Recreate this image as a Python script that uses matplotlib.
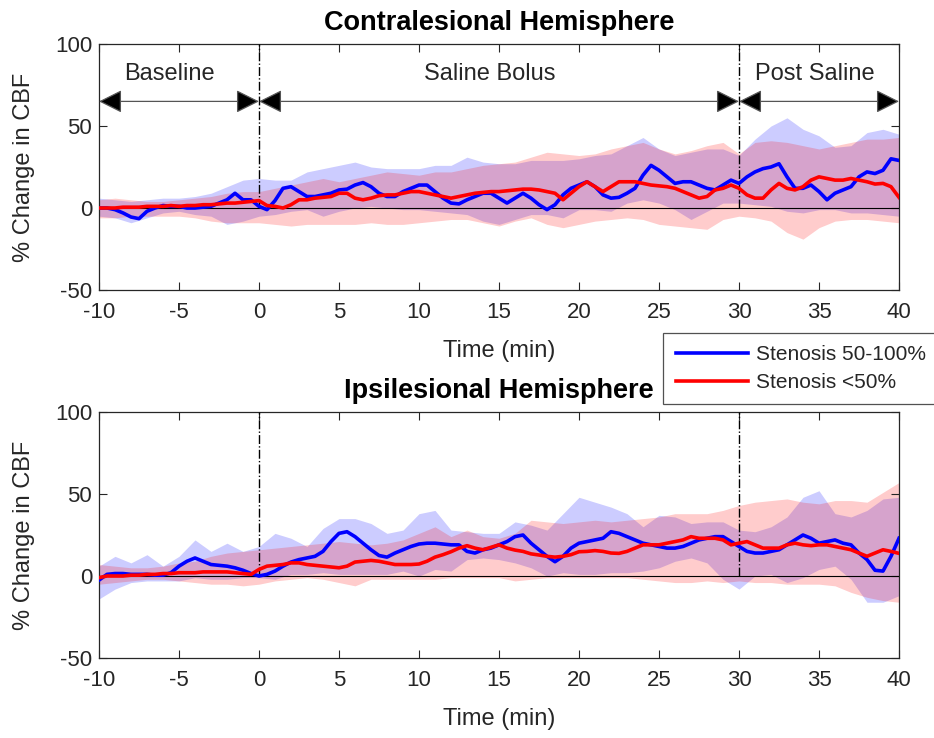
import numpy as np
import matplotlib
matplotlib.use("Agg")
import matplotlib.pyplot as plt
from matplotlib.patches import FancyArrowPatch

plt.rcParams['font.family'] = ['Liberation Sans', 'DejaVu Sans']
plt.rcParams['axes.unicode_minus'] = False

# ---------------- data ----------------
t_mean = np.arange(-10, 40.01, 0.5)   # mean curves, 0.5-min sampling
t_band = np.arange(-10, 41, 1)        # confidence bands, 1-min sampling

contra_blue_mean = [
    0, 0, -1, -3, -5.5, -6.5, -2, 0, 1.5, 1,
    1, 0, 0, 0.5, 1, 3, 5, 9, 5, 5,
    1, -1, 4.5, 12, 13, 10, 7, 7, 8, 9,
    11, 11.5, 14, 15.5, 13, 9, 7, 7, 10, 12,
    14, 14, 10, 6, 3, 2.5, 5, 7, 9, 9,
    6, 3, 6, 9, 6, 2, -1, 2, 8, 12,
    14, 16, 13, 8, 6, 6.5, 9, 12, 20, 26,
    23, 19, 15, 16, 16, 14, 12, 11, 14, 17,
    15, 19, 22, 24, 25, 27, 19, 12, 12, 14,
    10, 5, 9, 11, 13, 19, 22, 21, 23, 30,
    29]
contra_red_mean = [
    0, 0, 0, 0.5, 0.5, 0.5, 1, 1, 1, 1.5,
    1, 1.5, 1.5, 2, 2, 2.5, 3, 3, 3.5, 4,
    4.5, 1.5, 1, 0, 2, 5, 5, 6, 6.5, 7,
    9, 9, 6, 5, 6, 7.5, 8, 8, 9, 10,
    10, 9, 8, 7, 6, 7, 8, 9, 9.5, 10,
    10, 10.5, 11, 11.5, 11.5, 11, 10, 9, 5, 9,
    13, 16, 13, 10, 13, 16, 16, 16, 15, 14,
    13.5, 13, 12, 10, 8, 6, 7, 11, 12, 14,
    12, 8, 6, 6, 11, 15, 12, 11, 13, 17,
    19, 18, 17, 17, 18, 17, 16, 14.6, 15, 13,
    6.5]
contra_blue_upper = [6, 5, 4, 5, 6, 6, 7, 9, 13, 17,
                     18, 17, 17, 22, 24, 26, 28, 25, 24, 24,
                     24, 26, 26, 31, 28, 27, 27, 29, 29, 29,
                     30, 32, 33, 38, 43, 36, 32, 34, 36, 36,
                     32, 42, 50, 55, 48, 44, 37, 38, 46, 48,
                     45]
contra_blue_lower = [-5, -6, -9, -6, -3, -2, -4, -5, -10, -8,
                     -5, -4, -2, -1, -5, -2, 0, 1, 0, -1,
                     -1, -2, -3, -4, -8, -10, -7, -4, -4, -6,
                     -1, -1, -2, 3, 5, 3, -1, -7, -2, 3,
                     3, 2, 1, -2, -3, -1, -1, -3, -3, -4,
                     -5]
contra_red_upper = [5, 6, 5, 4, 4, 5, 6, 7, 9, 10,
                    10, 12, 14, 16, 18, 16, 18, 20, 22, 21,
                    20, 22, 22, 24, 26, 27, 28, 31, 34, 33,
                    32, 33, 36, 38, 40, 36, 33, 35, 38, 40,
                    33, 40, 41, 40, 38, 36, 38, 40, 42, 42,
                    43]
contra_red_lower = [-6, -6, -5, -5, -5, -5, -6, -8, -9, -9,
                    -9, -10, -11, -10, -10, -10, -10, -9, -10, -10,
                    -9, -8, -7, -7, -9, -11, -8, -6, -10, -12,
                    -10, -8, -7, -6, -7, -10, -11, -12, -13, -7,
                    -5, -6, -8, -15, -19, -12, -8, -7, -7, -8,
                    -9]

ipsi_blue_mean = [
    -2.5, 1, 1.5, 1.5, 1, 1, 1, 0.5, 0.5, 2,
    6, 9, 11, 9, 7, 6.5, 6, 5, 3.5, 1.5,
    0, 1, 3, 6, 8.5, 10, 11, 12, 15, 21,
    26, 27, 24, 20, 16, 12.5, 11.5, 14, 16, 18,
    19.5, 20, 20, 19.5, 19, 19, 15, 14, 16, 17,
    19, 21, 24, 25, 20, 16, 12, 8.7, 12, 17,
    20, 21, 22, 23, 27, 26, 24, 22, 20, 19,
    18, 17, 17, 18, 20, 22, 23, 24, 24, 21,
    18, 15, 14, 14, 15, 16, 19, 22, 25, 23,
    20, 21, 22, 20, 19, 14, 10, 3.5, 3, 12,
    23]
ipsi_red_mean = [
    -1, 0, 0, 0, 0.5, 0.5, 1, 1, 1.5, 1.5,
    2, 2, 2, 2.5, 2.5, 2.5, 2.5, 2, 1.5, 1,
    4, 6, 6.5, 7, 8, 8, 7, 6.5, 6, 5.5,
    5, 6, 8.5, 9, 9.5, 9, 8, 7, 7, 7,
    7.3, 9, 11.5, 13, 14.8, 17, 18.5, 17, 16, 17.5,
    19, 17, 15.8, 15, 13.5, 12.8, 12, 11.5, 12, 13,
    14.8, 15, 15.5, 15, 14, 13.8, 15, 17, 19, 19,
    19, 20, 21, 22, 24, 23, 23, 23, 22, 19,
    20, 21, 19, 17, 17, 17, 19, 20, 19, 18.5,
    19, 19, 18, 17, 16, 14, 12, 14, 16, 15,
    13.8]
ipsi_blue_upper = [6, 12, 8, 13, 6, 12, 22, 15, 20, 15,
                   18, 26, 23, 18, 29, 35, 35, 32, 26, 28,
                   38, 40, 28, 27, 26, 26, 33, 31, 28, 38,
                   48, 45, 42, 38, 30, 37, 36, 32, 33, 33,
                   28, 27, 30, 36, 48, 52, 38, 36, 40, 47,
                   48]
ipsi_blue_lower = [-14, -8, -4, -3, -3, -3, -1, -2, -2, -1,
                   -1, -2, 1, 1, 2, 1, 1, 1, 1, 3,
                   0, 4, 3, 10, 11, 10, 8, 5, 0, 2,
                   1, 1, 2, 2, 3, 5, 9, 11, 8, -2,
                   -8, 0, 1, -4, -1, 4, 6, -2, -16, -16,
                   -12]
ipsi_red_upper = [7, 6, 5, 5, 6, 8, 9, 12, 14, 15,
                  16, 17, 18, 19, 20, 21, 20, 19, 20, 22,
                  26, 30, 24, 28, 24, 23, 26, 34, 33, 32,
                  33, 34, 33, 34, 35, 36, 38, 38, 38, 40,
                  43, 45, 46, 47, 45, 44, 46, 46, 45, 51,
                  57]
ipsi_red_lower = [-5, -4, -3, -2, -2, -3, -4, -5, -5, -6,
                  -5, -3, -2, -1, -2, -4, -6, -2, -2, -2,
                  -2, -2, -1, -1, -1, -1, -3, -2, -1, -1,
                  -1, -1, -1, -1, -2, -3, -4, -4, -3, -4,
                  -3, -4, -4, -5, -5, -5, -6, -10, -13, -15,
                  -16]

phase_labels = ["Baseline", "Saline Bolus", "Post Saline"]
phase_edges = [-10, 0, 30, 40]
series_labels = ["Stenosis 50-100%", "Stenosis <50%"]
titles = ["Contralesional Hemisphere", "Ipsilesional Hemisphere"]

# ---------------- figure ----------------
W, H = 934, 738
fig = plt.figure(figsize=(W / 100, H / 100), dpi=100)
ax1 = fig.add_axes([99 / W, 1 - 290 / H, 800 / W, 246 / H])
ax2 = fig.add_axes([99 / W, 1 - 658 / H, 800 / W, 246 / H])

txt = '#262626'
blue = '#0000FF'
red = '#FF0000'

panels = [
    (ax1, contra_blue_mean, contra_red_mean, contra_blue_upper, contra_blue_lower,
     contra_red_upper, contra_red_lower),
    (ax2, ipsi_blue_mean, ipsi_red_mean, ipsi_blue_upper, ipsi_blue_lower,
     ipsi_red_upper, ipsi_red_lower),
]

handles = None
for i, (ax, bm, rm, bu, bl, ru, rl) in enumerate(panels):
    ax.fill_between(t_band, bl, bu, color=blue, alpha=0.2, lw=0)
    ax.fill_between(t_band, rl, ru, color=red, alpha=0.2, lw=0)
    ax.axhline(0, color='black', lw=0.8, zorder=3)
    for xv in (0, 30):
        ax.plot([xv, xv], [0, 100], color='black', lw=1.0, ls='-.', zorder=3)
    hb, = ax.plot(t_mean, bm, color=blue, lw=2.6, zorder=4, label=series_labels[0])
    hr, = ax.plot(t_mean, rm, color=red, lw=2.6, zorder=5, label=series_labels[1])
    if handles is None:
        handles = [hb, hr]

    ax.set_xlim(-10, 40)
    ax.set_ylim(-50, 100)
    ax.set_xticks(np.arange(-10, 41, 5))
    ax.set_yticks([-50, 0, 50, 100])
    ax.tick_params(direction='in', top=True, right=True, length=6, width=0.8,
                   labelsize=16, colors=txt, labelcolor=txt)
    ax.tick_params(axis='x', pad=9)
    ax.tick_params(axis='y', pad=5)
    for s in ax.spines.values():
        s.set_color(txt)
        s.set_linewidth(0.9)
    ax.set_xlabel('Time (min)', fontsize=17, color=txt, labelpad=12)
    ax.set_ylabel('% Change in CBF', fontsize=17, color=txt, labelpad=14)
    ax.set_title(titles[i], fontsize=19.5, fontweight='bold', color='black', pad=10)

# phase arrows & labels on the top panel
arrow_y = 65
label_y = 82
for k in range(3):
    a, b = phase_edges[k], phase_edges[k + 1]
    arr = FancyArrowPatch((a, arrow_y), (b, arrow_y),
                          arrowstyle='<|-|>,head_length=0.9,head_width=0.45',
                          mutation_scale=16, facecolor='black', edgecolor='#555555',
                          lw=0.9, clip_on=False, shrinkA=0, shrinkB=0, zorder=6)
    ax1.add_patch(arr)
label_x = [-5.6, 14.4, 34.75]
for lbl, xv in zip(phase_labels, label_x):
    ax1.text(xv, label_y, lbl, ha='center', va='center', fontsize=17, color=txt)

leg = fig.legend(handles=handles, labels=series_labels, loc='upper left',
                 bbox_to_anchor=(663 / W, 1 - 333 / H), fontsize=15,
                 handlelength=3.5, frameon=True, fancybox=False, borderpad=0.6,
                 labelspacing=0.4, handletextpad=0.35, borderaxespad=0)
leg.get_frame().set_edgecolor(txt)
leg.get_frame().set_linewidth(0.9)
leg.set_zorder(10)
for t in leg.get_texts():
    t.set_color(txt)

fig.savefig('out.png', dpi=100)
